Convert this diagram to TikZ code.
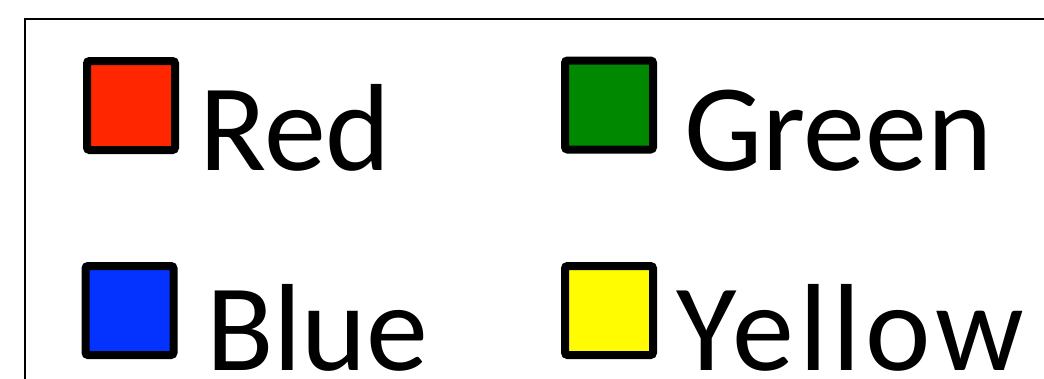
\documentclass[tikz,border=0pt]{standalone}
\usepackage{fontspec}
\setmainfont{Carlito}
\definecolor{kred}{RGB}{255,38,0}
\definecolor{kgreen}{RGB}{0,136,0}
\definecolor{kblue}{RGB}{4,51,255}
\definecolor{kyellow}{RGB}{255,251,0}
\tikzset{
  swatch/.style={draw=black, line width=8pt, rounded corners=2.5pt, minimum width=88pt, minimum height=89pt, inner sep=0pt, outer sep=0pt},
  lbl/.style={anchor=base west, inner sep=0pt, outer sep=0pt, font=\fontsize{124}{130}\selectfont}
}
\begin{document}
\begin{tikzpicture}[x=1pt,y=-1pt]
\useasboundingbox (0,0) rectangle (1044,378);
\clip (0,0) rectangle (1044,378);
\fill[white] (0,0) rectangle (1044,378);
\draw[line width=2pt, black] (25,19) rectangle (1100,420);
\node[swatch, fill=kred] (sr) at (131,105.5) {};
\node[swatch, fill=kgreen] (sg) at (609,105) {};
\node[swatch, fill=kblue] (sb) at (129.5,310.5) {};
\node[swatch, fill=kyellow] (sy) at (609,310.5) {};
\node[lbl] (tr) at (199,170) {Red};
\node[lbl] (tg) at (684,170) {Green};
\node[lbl] (tb) at (206,370) {Blue};
\node[lbl, font=\fontsize{124}{130}\selectfont\addfontfeature{LetterSpace=4}] (ty) at (676,370) {Yellow};
\end{tikzpicture}
\end{document}
